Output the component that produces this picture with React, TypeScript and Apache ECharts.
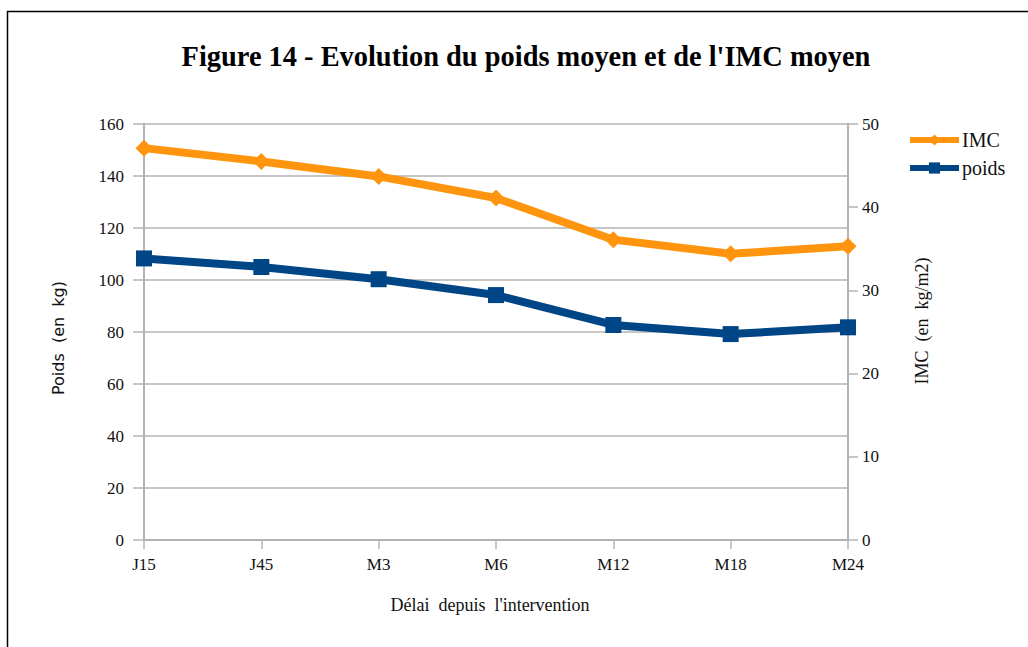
import React, { useEffect, useRef } from "react";
import * as echarts from "echarts";

const categories = ["J15", "J45", "M3", "M6", "M12", "M18", "M24"];
const imcValues = [47.1, 45.5, 43.7, 41.1, 36.1, 34.4, 35.3];
const poidsValues = [108.3, 105.0, 100.3, 94.2, 82.7, 79.2, 81.8];
const leftTicks = { min: 0, max: 160, interval: 20 };
const rightTicks = { min: 0, max: 50, interval: 10 };

const ORANGE = "#ff950e";
const BLUE = "#004586";
const GRID = "#b3b3b3";
const SERIF = "'Liberation Serif', 'DejaVu Serif', serif";
const SANS = "'DejaVu Sans', sans-serif";

export default function App() {
  const ref = useRef<HTMLDivElement>(null);
  useEffect(() => {
    if (!ref.current) return;
    const chart = echarts.init(ref.current, undefined, { renderer: "svg" });
    chart.setOption({
      animation: false,
      backgroundColor: "#ffffff",
      title: {
        text: "Figure 14 - Evolution du poids moyen et de l'IMC moyen",
        left: 521,
        top: 37,
        textAlign: "center",
        textStyle: { fontFamily: SERIF, fontWeight: "bold", fontSize: 28.4, color: "#000" },
      },
      legend: {
        orient: "vertical",
        left: 907,
        top: 130,
        itemWidth: 49,
        itemHeight: 14,
        itemGap: 8,
        padding: 0,
        lineStyle: { width: 6 },
        textStyle: { fontFamily: SERIF, fontSize: 20, color: "#111", lineHeight: 20, padding: [0, 0, 0, -2] },
        data: ["IMC", "poids"],
      },
      grid: { left: 144, right: 180, top: 124, bottom: 107, containLabel: false },
      xAxis: {
        type: "category",
        data: categories,
        boundaryGap: false,
        axisLine: { lineStyle: { color: GRID, width: 2 } },
        axisTick: { show: true, length: 9, lineStyle: { color: GRID, width: 1.5 } },
        axisLabel: { fontFamily: SERIF, fontSize: 17, color: "#111", margin: 16 },
        splitLine: { show: false },
      },
      yAxis: [
        {
          type: "value",
          position: "left",
          min: leftTicks.min,
          max: leftTicks.max,
          interval: leftTicks.interval,
          axisLine: { show: true, lineStyle: { color: GRID, width: 2 } },
          axisTick: { show: true, length: 11, lineStyle: { color: GRID, width: 1.5 } },
          axisLabel: { fontFamily: SERIF, fontSize: 17, color: "#111", margin: 20 },
          splitLine: { show: true, lineStyle: { color: GRID, width: 1.5 } },
        },
        {
          type: "value",
          position: "right",
          min: rightTicks.min,
          max: rightTicks.max,
          interval: rightTicks.interval,
          axisLine: { show: true, lineStyle: { color: GRID, width: 2 } },
          axisTick: { show: true, length: 10, lineStyle: { color: GRID, width: 1.5 } },
          axisLabel: { fontFamily: SERIF, fontSize: 17, color: "#111", margin: 14 },
          splitLine: { show: false },
        },
      ],
      series: [
        {
          name: "IMC",
          type: "line",
          yAxisIndex: 1,
          data: imcValues,
          color: ORANGE,
          symbol: "diamond",
          symbolSize: 17,
          lineStyle: { width: 8, color: ORANGE },
          itemStyle: { color: ORANGE },
          clip: false,
          z: 3,
        },
        {
          name: "poids",
          type: "line",
          yAxisIndex: 0,
          data: poidsValues,
          color: BLUE,
          symbol: "rect",
          symbolSize: 16,
          lineStyle: { width: 8, color: BLUE },
          itemStyle: { color: BLUE },
          clip: false,
          z: 3,
        },
      ],
      graphic: [
        {
          type: "rect",
          shape: { x: 7.5, y: 11.5, width: 1200, height: 800 },
          style: { fill: "none", stroke: "#000", lineWidth: 1.5 },
          silent: true,
        },
        {
          type: "text",
          x: 58,
          y: 338,
          rotation: Math.PI / 2,
          style: {
            text: "Poids  (en  kg)",
            fontFamily: SANS,
            fontSize: 16,
            fill: "#111",
            textAlign: "center",
            textVerticalAlign: "middle",
          },
        },
        {
          type: "text",
          x: 922,
          y: 321,
          rotation: Math.PI / 2,
          style: {
            text: "IMC  (en  kg/m2)",
            fontFamily: SERIF,
            fontSize: 18,
            fill: "#111",
            textAlign: "center",
            textVerticalAlign: "middle",
          },
        },
        {
          type: "text",
          x: 490,
          y: 605,
          style: {
            text: "Délai  depuis  l'intervention",
            fontFamily: SERIF,
            fontSize: 18,
            fill: "#111",
            textAlign: "center",
            textVerticalAlign: "middle",
          },
        },
      ],
    });
    return () => chart.dispose();
  }, []);
  return (
    <div
      ref={ref}
      style={{ position: "fixed", left: 0, top: 0, width: 1028, height: 647, background: "#fff" }}
    />
  );
}
